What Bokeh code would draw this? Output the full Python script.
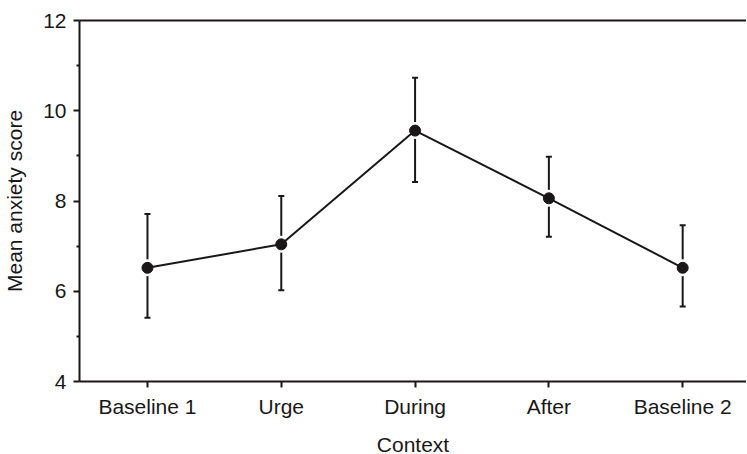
from bokeh.plotting import figure
from bokeh.models import (ColumnDataSource, Range1d, FixedTicker, LinearAxis,
                          Whisker, TeeHead)
from bokeh.embed import file_html
from bokeh.resources import INLINE

contexts = ["Baseline 1", "Urge", "During", "After", "Baseline 2"]
means = [6.52, 7.04, 9.56, 8.06, 6.52]
upper = [7.71, 8.11, 10.73, 8.98, 7.46]
lower = [5.41, 6.02, 8.42, 7.21, 5.66]
y_ticks = [4, 6, 8, 10, 12]
y_minor = [5, 7, 9, 11]

INK = "#1a1718"
FONT = "Liberation Sans"
FS = "21px"

xs = list(range(len(contexts)))
src = ColumnDataSource(dict(x=xs, mean=means, upper=upper, lower=lower))

p = figure(frame_width=667, frame_height=361,
           min_border_left=72, min_border_top=20, min_border_right=0,
           min_border_bottom=57,
           x_range=Range1d(-0.508, 4.477), y_range=Range1d(4, 12),
           output_backend="svg", toolbar_location=None)
p.outline_line_color = None
p.xgrid.visible = False
p.ygrid.visible = False
p.background_fill_color = "white"
p.border_fill_color = "white"

# error bars
wh = Whisker(source=src, base="x", upper="upper", lower="lower",
             line_color=INK, line_width=2, level="underlay",
             upper_head=TeeHead(size=6, line_color=INK, line_width=2),
             lower_head=TeeHead(size=6, line_color=INK, line_width=2))
p.add_layout(wh)

# white halo around points
p.scatter("x", "mean", source=src, size=17, fill_color="white", line_color=None)
p.line("x", "mean", source=src, line_color=INK, line_width=2)
p.scatter("x", "mean", source=src, size=11, fill_color=INK, line_color=INK)

# x axis
xa = p.xaxis[0]
xa.ticker = FixedTicker(ticks=xs)
xa.major_label_overrides = {i: c for i, c in zip(xs, contexts)}
xa.axis_label = "Context"
# y axis
ya = p.yaxis[0]
ya.ticker = FixedTicker(ticks=y_ticks, minor_ticks=y_minor)
ya.axis_label = "Mean anxiety score"

for ax in (xa, ya):
    ax.axis_line_color = INK
    ax.axis_line_width = 2
    ax.major_tick_line_color = INK
    ax.major_tick_line_width = 2
    ax.minor_tick_line_color = INK
    ax.minor_tick_line_width = 2
    ax.major_tick_out = 6
    ax.major_tick_in = 0
    ax.minor_tick_out = 3
    ax.minor_tick_in = 0
    ax.major_label_text_font = FONT
    ax.major_label_text_font_size = FS
    ax.major_label_text_color = INK
    ax.axis_label_text_font = FONT
    ax.axis_label_text_font_size = FS
    ax.axis_label_text_font_style = "normal"
    ax.axis_label_text_color = INK
    ax.major_label_standoff = 7
xa.minor_tick_line_color = None
xa.axis_label_standoff = 12
ya.axis_label_standoff = 14

top = LinearAxis(ticker=FixedTicker(ticks=[]), axis_line_color=INK,
                 axis_line_width=2, major_tick_line_color=None,
                 minor_tick_line_color=None, major_label_text_font_size="0px")
p.add_layout(top, "above")

open("out.html", "w").write(file_html(p, INLINE))
